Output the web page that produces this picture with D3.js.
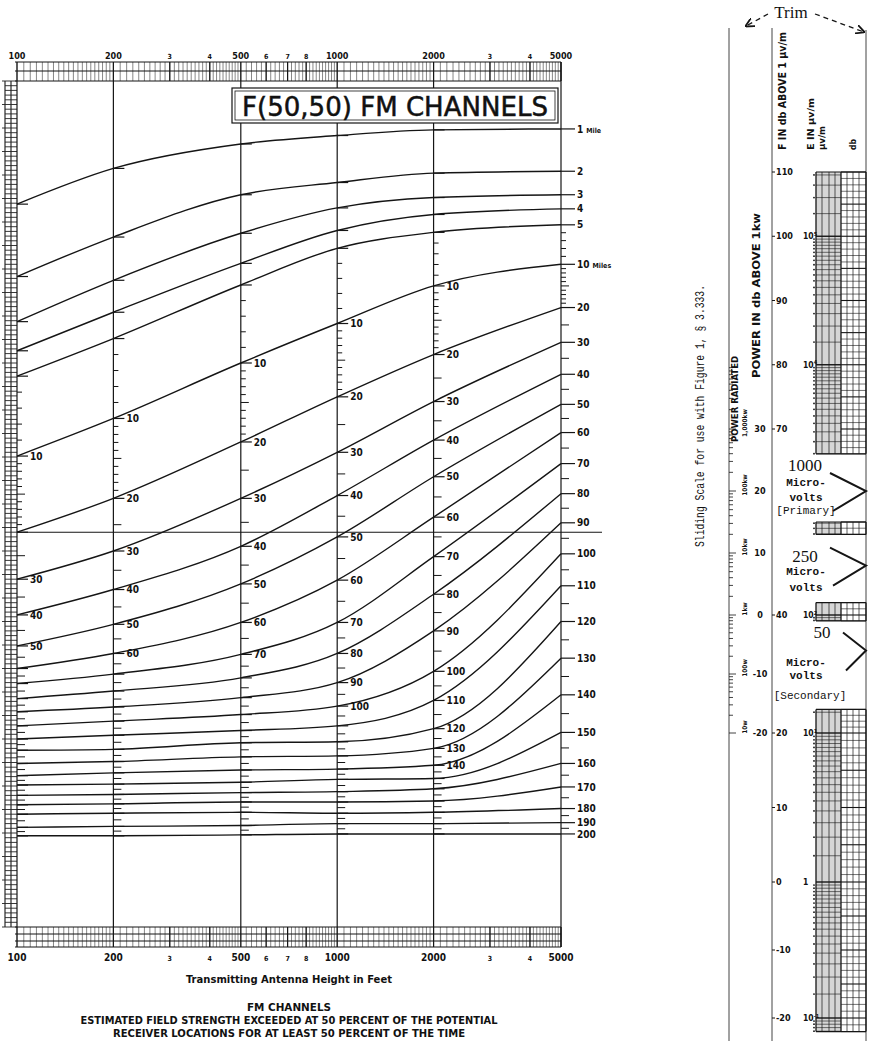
<!DOCTYPE html>
<html>
<head>
<meta charset="utf-8">
<script src="https://cdn.jsdelivr.net/npm/d3@7"></script>
<style>
  body { margin: 0; background: #fff; }
  svg { display: block; }
  .lbl { font-family: "DejaVu Sans Condensed", "DejaVu Sans", sans-serif; font-weight: bold; fill: #111; }
  .mono { font-family: "Liberation Mono", "DejaVu Sans Mono", monospace; fill: #111; }
  .serif { font-family: "Liberation Serif", "DejaVu Serif", serif; fill: #111; }
</style>
</head>
<body>
<svg id="chart"></svg>
<script>
(function () {
  // Antenna heights (feet) where the curves were read
  var heights = [100, 200, 500, 1000, 2000, 5000]
  // One curve per distance, miles
  var distances = [1, 2, 3, 4, 5, 10, 20, 30, 40, 50, 60, 70, 80, 90, 100, 110, 120, 130, 140, 150, 160, 170, 180, 190, 200]

  // Field strength, db above 1 uV/m, per distance at each height
  var fieldAt100 = [94.9, 87.2, 82.4, 79.3, 76.6, 68.1, 60.0, 55.0, 51.2, 47.9, 45.5, 43.9, 42.3, 40.9, 39.4, 38.0, 36.8, 35.4, 34.1, 33.1, 32.0, 31.0, 30.0, 28.6, 27.7]
  var fieldAt200 = [98.7, 91.4, 86.8, 83.4, 80.6, 72.1, 63.6, 58.0, 53.9, 50.2, 47.1, 44.9, 43.1, 41.4, 39.9, 38.4, 36.9, 35.6, 34.4, 33.2, 32.1, 31.1, 30.1, 28.7, 27.7]
  var fieldAt500 = [101.3, 95.9, 91.8, 88.6, 86.3, 78.0, 69.6, 63.6, 58.5, 54.5, 50.4, 47.0, 44.5, 42.4, 40.6, 38.9, 37.6, 36.1, 34.7, 33.4, 32.3, 31.3, 30.2, 28.8, 27.8]
  var fieldAt1000 = [102.2, 97.2, 94.5, 92.1, 90.2, 82.2, 74.4, 68.5, 63.9, 59.5, 54.9, 50.4, 47.1, 44.0, 41.5, 39.4, 37.7, 36.2, 34.8, 33.7, 32.4, 31.3, 30.1, 29.0, 27.9]
  var fieldAt2000 = [102.8, 98.2, 95.6, 93.8, 91.9, 86.2, 78.9, 73.9, 69.8, 65.9, 61.6, 57.4, 53.4, 49.5, 45.2, 42.1, 39.1, 37.0, 35.2, 33.8, 32.7, 31.4, 30.2, 29.0, 27.9]
  var fieldAt5000 = [102.9, 98.4, 95.9, 94.4, 92.7, 88.5, 83.9, 80.2, 76.8, 73.6, 70.6, 67.3, 64.1, 61.0, 57.7, 54.3, 50.5, 46.6, 42.7, 38.7, 35.4, 32.9, 30.6, 29.1, 27.9]

  // Distances that carry a number beside each height line
  var labelsAt100 = [10, 30, 40, 50]
  var labelsAt200 = [10, 20, 30, 40, 50, 60]
  var labelsAt500 = [10, 20, 30, 40, 50, 60, 70]
  var labelsAt1000 = [10, 20, 30, 40, 50, 60, 70, 80, 90, 100]
  var labelsAt2000 = [10, 20, 30, 40, 50, 60, 70, 80, 90, 100, 110, 120, 130, 140]

  // Height axis tick labels
  var heightTicks = [100, 200, 300, 400, 500, 600, 700, 800, 1000, 2000, 3000, 4000, 5000]
  var heightTickText = ['100', '200', '3', '4', '500', '6', '7', '8', '1000', '2000', '3', '4', '5000']

  // Sliding scale
  var fDbTicks = [110, 100, 90, 80, 70, 40, 20, 10, 0, -10, -20]
  var powerDbTicks = [30, 20, 10, 0, -10, -20]
  var powerNames = ['1,000kw', '100kw', '10kw', '1kw', '100w', '10w']
  var eTickDb = [100, 80, 40, 20, 0, -20]
  var eTickExp = ['5', '4', '2', '1', '', '-1']
  var contourUv = [1000, 250, 50]
  var contourTag = ['[Primary]', '', '[Secondary]']

  var W = 872
  var H = 1041
  var ink = '#151515'
  var fieldByHeight = [fieldAt100, fieldAt200, fieldAt500, fieldAt1000, fieldAt2000, fieldAt5000]
  var labelsByHeight = [labelsAt100, labelsAt200, labelsAt500, labelsAt1000, labelsAt2000, distances]

  var svg = d3.select('#chart').attr('width', W).attr('height', H)
  svg.append('rect').attr('width', W).attr('height', H).attr('fill', '#fff')

  var x = d3.scaleLog().domain([100, 5000]).range([17, 561])
  var y = d3.scaleLinear().domain([18, 108]).range([927, 81])
  var plotTop = y(108)
  var plotBottom = y(18)

  var chart = svg.append('g')

  // Height strips at top and bottom
  var fineHeights = [].concat(d3.range(100, 200, 5), d3.range(200, 500, 10), d3.range(500, 1000, 20),
    d3.range(1000, 2000, 50), d3.range(2000, 5001, 100))
  var strips = [[62, plotTop, [62, 71, plotTop]], [plotBottom, 947, [plotBottom, 934, 941, 947]]]
  strips.forEach(function (s) {
    var sg = chart.append('g')
    sg.selectAll('line.f').data(fineHeights).enter().append('line')
      .attr('x1', function (d) { return x(d) }).attr('x2', function (d) { return x(d) })
      .attr('y1', s[0]).attr('y2', s[1])
      .attr('stroke', '#555').attr('stroke-width', 0.7)
    sg.selectAll('line.r').data(s[2]).enter().append('line')
      .attr('x1', x(100) - 2).attr('x2', x(5000))
      .attr('y1', function (d) { return d }).attr('y2', function (d) { return d })
      .attr('stroke', ink).attr('stroke-width', 1)
    sg.selectAll('line.m').data(heightTicks).enter().append('line')
      .attr('x1', function (d) { return x(d) }).attr('x2', function (d) { return x(d) })
      .attr('y1', s[0]).attr('y2', s[1])
      .attr('stroke', ink).attr('stroke-width', 1.2)
  })

  // Height labels above and below
  chart.selectAll('text.top').data(heightTicks).enter().append('text')
    .attr('class', 'lbl')
    .attr('x', function (d) { return x(d) }).attr('y', 59)
    .attr('text-anchor', 'middle')
    .attr('font-size', function (d, i) { return heightTickText[i].length > 1 ? 9 : 7 })
    .text(function (d, i) { return heightTickText[i] })
  chart.selectAll('text.bot').data(heightTicks).enter().append('text')
    .attr('class', 'lbl')
    .attr('x', function (d) { return x(d) }).attr('y', 961)
    .attr('text-anchor', 'middle')
    .attr('font-size', function (d, i) { return heightTickText[i].length > 1 ? 10 : 7 })
    .text(function (d, i) { return heightTickText[i] })
  chart.append('text').attr('class', 'lbl')
    .attr('x', 289).attr('y', 983).attr('text-anchor', 'middle')
    .attr('font-size', 11).attr('textLength', 206).attr('lengthAdjust', 'spacingAndGlyphs')
    .text('Transmitting Antenna Height in Feet')

  // Left ruler
  var rungs = d3.range(18, 108.001, 0.5)
  chart.selectAll('line.rail').data([5, 11]).enter().append('line')
    .attr('x1', function (d) { return d }).attr('x2', function (d) { return d })
    .attr('y1', plotTop).attr('y2', plotBottom)
    .attr('stroke', ink).attr('stroke-width', 1.1)
  chart.selectAll('line.rung').data(rungs).enter().append('line')
    .attr('x1', function (d, i) { return i % 5 === 0 ? 2 : 5 }).attr('x2', x(100))
    .attr('y1', function (d) { return y(d) }).attr('y2', function (d) { return y(d) })
    .attr('stroke', '#222').attr('stroke-width', 0.9)

  // Height lines
  chart.selectAll('line.vgrid').data(heights).enter().append('line')
    .attr('x1', function (d) { return x(d) }).attr('x2', function (d) { return x(d) })
    .attr('y1', function (d) { return d === 5000 ? 62 : plotTop })
    .attr('y2', function (d) { return d === 5000 ? 947 : plotBottom })
    .attr('stroke', ink).attr('stroke-width', 1.2)

  // 1000 microvolt line
  chart.append('line').attr('x1', x(100)).attr('x2', 602)
    .attr('y1', y(60)).attr('y2', y(60))
    .attr('stroke', ink).attr('stroke-width', 1.1)

  // Curves
  var line = d3.line()
    .x(function (d) { return x(d[0]) })
    .y(function (d) { return y(d[1]) })
    .curve(d3.curveMonotoneX)
  chart.selectAll('path.curve').data(distances).enter().append('path')
    .attr('d', function (dist, i) {
      return line(heights.map(function (h, j) { return [h, fieldByHeight[j][i]] }))
    })
    .attr('fill', 'none').attr('stroke', ink).attr('stroke-width', 1.4)

  // Distance scales along each height line
  var minorMiles = [].concat([6, 7, 8, 9], d3.range(11, 20), d3.range(25, 200, 10))
  heights.forEach(function (h, j) {
    var dScale = d3.scaleLinear().domain(distances).range(fieldByHeight[j].map(y))
    var xx = x(h)
    var isRight = h === 5000
    var tg = chart.append('g')
    tg.selectAll('line.minor').data(minorMiles).enter().append('line')
      .attr('x1', xx).attr('x2', function (d) { return xx + (d % 5 === 0 ? 8 : 5) })
      .attr('y1', function (d) { return dScale(d) }).attr('y2', function (d) { return dScale(d) })
      .attr('stroke', ink).attr('stroke-width', 1)
    tg.selectAll('line.major').data(distances).enter().append('line')
      .attr('x1', xx).attr('x2', xx + (isRight ? 14 : 11))
      .attr('y1', function (d) { return dScale(d) }).attr('y2', function (d) { return dScale(d) })
      .attr('stroke', ink).attr('stroke-width', 1.2)
    var lt = tg.selectAll('text').data(labelsByHeight[j]).enter().append('text')
      .attr('class', 'lbl')
      .attr('x', xx + (isRight ? 16 : 13))
      .attr('y', function (d) { return dScale(d) })
      .attr('dy', '0.36em')
      .attr('font-size', 10)
      .text(function (d) { return d })
    if (isRight) {
      lt.filter(function (d) { return d === 1 || d === 10 })
        .append('tspan').attr('font-size', 7).attr('dx', 3)
        .text(function (d) { return d === 1 ? 'Mile' : 'Miles' })
    }
  })

  // Title box
  chart.append('rect').attr('x', 232).attr('y', 88).attr('width', 326).attr('height', 35)
    .attr('fill', '#fff').attr('stroke', ink).attr('stroke-width', 1.2)
  chart.append('rect').attr('x', 235).attr('y', 91).attr('width', 320).attr('height', 29)
    .attr('fill', 'none').attr('stroke', ink).attr('stroke-width', 0.8)
  chart.append('text')
    .attr('x', 395).attr('y', 116).attr('text-anchor', 'middle')
    .attr('font-family', '"DejaVu Sans", sans-serif').attr('font-size', 26)
    .attr('stroke', '#111').attr('stroke-width', 0.5)
    .attr('textLength', 306).attr('lengthAdjust', 'spacingAndGlyphs').attr('fill', '#111')
    .text('F(50,50) FM CHANNELS')

  // Caption
  var caption = ['FM CHANNELS', 'ESTIMATED FIELD STRENGTH EXCEEDED AT 50 PERCENT OF THE POTENTIAL',
    'RECEIVER LOCATIONS FOR AT LEAST 50 PERCENT OF THE TIME']
  var capLen = [84, 417, 352]
  chart.selectAll('text.cap').data(caption).enter().append('text')
    .attr('class', 'lbl')
    .attr('x', 289).attr('y', function (d, i) { return 1011 + i * 13 })
    .attr('text-anchor', 'middle').attr('font-size', 10.5)
    .attr('textLength', function (d, i) { return capLen[i] }).attr('lengthAdjust', 'spacingAndGlyphs')
    .text(function (d) { return d })

  // ---------- Sliding scale ----------
  var side = svg.append('g')
  var fy = d3.scaleLinear().domain([110, 70, 40, 20, 0, -20]).range([172, 429, 615, 733, 882, 1018])

  side.append('text').attr('class', 'mono')
    .attr('transform', 'translate(704,547) rotate(-90)')
    .attr('font-size', 12).attr('textLength', 262).attr('lengthAdjust', 'spacingAndGlyphs')
    .text('Sliding Scale for use with Figure 1, \u00a7 3.333.')

  // Trim marks
  side.append('text').attr('class', 'serif').attr('x', 791).attr('y', 18)
    .attr('text-anchor', 'middle').attr('font-size', 17).text('Trim')
  svg.append('defs').append('marker').attr('id', 'ah')
    .attr('viewBox', '0 0 10 10').attr('refX', 9).attr('refY', 5)
    .attr('markerWidth', 7).attr('markerHeight', 7).attr('orient', 'auto')
    .append('path').attr('d', 'M0,0 L10,5 L0,10').attr('fill', 'none').attr('stroke', ink).attr('stroke-width', 2)
  side.append('line').attr('x1', 768).attr('y1', 14).attr('x2', 746).attr('y2', 26)
    .attr('stroke', ink).attr('stroke-width', 1.3).attr('stroke-dasharray', '5,4').attr('marker-end', 'url(#ah)')
  side.append('line').attr('x1', 815).attr('y1', 14).attr('x2', 864).attr('y2', 32)
    .attr('stroke', ink).attr('stroke-width', 1.3).attr('stroke-dasharray', '5,4').attr('marker-end', 'url(#ah)')

  // Slide edges
  var edgeX = [729, 772, 866]
  side.selectAll('line.edge').data(edgeX).enter().append('line')
    .attr('x1', function (d) { return d }).attr('x2', function (d) { return d })
    .attr('y1', function (d) { return d === 866 ? 30 : 28 }).attr('y2', H)
    .attr('stroke', '#444').attr('stroke-width', 1)

  // Headings
  var heads = [
    ['F IN db ABOVE 1 \u00b5v/m', 786, 150, 118, 10],
    ['E IN \u00b5v/m', 814, 150, 52, 9],
    ['\u00b5v/m', 825, 150, 24, 8],
    ['db', 856, 150, 11, 9],
    ['POWER IN db ABOVE 1kw', 760, 378, 165, 10],
    ['POWER RADIATED', 738, 442, 86, 9]
  ]
  side.selectAll('text.head').data(heads).enter().append('text')
    .attr('class', 'lbl')
    .attr('transform', function (d) { return 'translate(' + d[1] + ',' + d[2] + ') rotate(-90)' })
    .attr('font-size', function (d) { return d[4] })
    .attr('textLength', function (d) { return d[3] }).attr('lengthAdjust', 'spacingAndGlyphs')
    .text(function (d) { return d[0] })

  // Grid pieces of the slide
  var gridSpans = [[110, 66], [55, 53], [42, 39], [24, -22]]
  gridSpans.forEach(function (span) {
    var gg = side.append('g')
    var y0 = fy(span[0])
    var y1 = fy(span[1])
    gg.append('rect').attr('x', 816).attr('y', y0).attr('width', 25).attr('height', y1 - y0)
      .attr('fill', '#d6d6d6')
    var logLines = []
    d3.range(-2, 7).forEach(function (n) {
      d3.range(1, 10, 0.5).forEach(function (k) {
        var db = 20 * Math.log10(k * Math.pow(10, n))
        if (db <= span[0] && db >= span[1]) logLines.push({ db: db, major: k === 1 })
      })
    })
    gg.selectAll('line.e').data(logLines).enter().append('line')
      .attr('x1', 816).attr('x2', 841)
      .attr('y1', function (d) { return fy(d.db) }).attr('y2', function (d) { return fy(d.db) })
      .attr('stroke', ink).attr('stroke-width', function (d) { return d.major ? 1.4 : 0.6 })
    gg.selectAll('circle').data(logLines.filter(function (d) { return !d.major })).enter().append('circle')
      .attr('cx', 814).attr('cy', function (d) { return fy(d.db) }).attr('r', 0.9).attr('fill', ink)
    var dbLines = d3.range(Math.ceil(span[1]), Math.floor(span[0]) + 1)
    gg.selectAll('line.d').data(dbLines).enter().append('line')
      .attr('x1', 841).attr('x2', 866)
      .attr('y1', function (d) { return fy(d) }).attr('y2', function (d) { return fy(d) })
      .attr('stroke', ink).attr('stroke-width', function (d) { return d % 5 === 0 ? 1.1 : 0.6 })
    gg.selectAll('line.v').data([816, 822, 829, 835, 841, 847, 853, 859, 866]).enter().append('line')
      .attr('x1', function (d) { return d }).attr('x2', function (d) { return d })
      .attr('y1', y0).attr('y2', y1)
      .attr('stroke', ink).attr('stroke-width', function (d) { return d === 816 || d === 841 || d === 866 ? 1.3 : 0.7 })
    gg.selectAll('line.h').data([y0, y1]).enter().append('line')
      .attr('x1', 816).attr('x2', 866).attr('y1', function (d) { return d }).attr('y2', function (d) { return d })
      .attr('stroke', ink).attr('stroke-width', 1.2)
  })

  // F labels
  side.selectAll('text.f').data(fDbTicks).enter().append('text')
    .attr('class', 'lbl').attr('x', 776).attr('y', function (d) { return fy(d) })
    .attr('dy', '0.35em').attr('font-size', 9).text(function (d) { return d })
  side.selectAll('line.ft').data(fDbTicks).enter().append('line')
    .attr('x1', 772).attr('x2', 775)
    .attr('y1', function (d) { return fy(d) }).attr('y2', function (d) { return fy(d) })
    .attr('stroke', ink)

  // E labels, powers of ten
  var et = side.selectAll('text.e').data(eTickDb).enter().append('text')
    .attr('class', 'lbl').attr('x', 803).attr('y', function (d) { return fy(d) })
    .attr('dy', '0.35em').attr('font-size', 8.5)
    .text(function (d, i) { return eTickExp[i] === '' ? '1' : '10' })
  et.append('tspan').attr('font-size', 5.5).attr('dy', '-0.6em')
    .text(function (d, i) { return eTickExp[i] })

  // Power labels
  side.selectAll('text.p').data(powerDbTicks).enter().append('text')
    .attr('class', 'lbl').attr('x', 760).attr('y', function (d) { return fy(d + 40) })
    .attr('dy', '0.35em').attr('text-anchor', 'middle').attr('font-size', 9)
    .text(function (d) { return d })
  side.selectAll('text.pn').data(powerDbTicks).enter().append('text')
    .attr('class', 'lbl')
    .attr('transform', function (d) { return 'translate(747,' + (fy(d + 40) - 6) + ') rotate(-90)' })
    .attr('text-anchor', 'middle').attr('font-size', 6.5)
    .text(function (d, i) { return powerNames[i] })
  var powerMarks = []
  powerDbTicks.forEach(function (p) {
    d3.range(1, 10).forEach(function (k) { powerMarks.push({ db: p + 10 * Math.log10(k), major: k === 1 }) })
  })
  side.selectAll('line.pm').data(powerMarks).enter().append('line')
    .attr('x1', 729).attr('x2', function (d) { return d.major ? 736 : 733 })
    .attr('y1', function (d) { return fy(d.db + 40) }).attr('y2', function (d) { return fy(d.db + 40) })
    .attr('stroke', ink).attr('stroke-width', 0.8)

  // Contour pointers
  var contourDb = contourUv.map(function (v) { return 20 * Math.log10(v) })
  var tagOffsets = [[-26, -9, 6, 19], [-10, 5, 21, 0], [-18, 12, 25, 45]]
  contourDb.forEach(function (db, i) {
    var vy = fy(db)
    var o = tagOffsets[i]
    side.append('path')
      .attr('d', 'M' + (i === 2 ? 843 : 830) + ',' + (vy - 18) + ' L866,' + vy + ' L' + (i === 2 ? 846 : 833) + ',' + (vy + 20))
      .attr('fill', 'none').attr('stroke', ink).attr('stroke-width', 2)
    side.append('text').attr('class', 'serif').attr('x', i === 2 ? 822 : 805).attr('y', vy + o[0])
      .attr('dy', '0.35em').attr('text-anchor', 'middle').attr('font-size', 17)
      .text(contourUv[i])
    side.append('text').attr('class', 'mono').attr('x', 806).attr('y', vy + o[1])
      .attr('dy', '0.35em').attr('text-anchor', 'middle').attr('font-size', 11)
      .attr('font-weight', 'bold').text('Micro-')
    side.append('text').attr('class', 'mono').attr('x', 806).attr('y', vy + o[2])
      .attr('dy', '0.35em').attr('text-anchor', 'middle').attr('font-size', 11)
      .attr('font-weight', 'bold').text('volts')
    if (contourTag[i]) {
      side.append('text').attr('class', 'mono').attr('x', i === 2 ? 810 : 806).attr('y', vy + o[3])
        .attr('dy', '0.35em').attr('text-anchor', 'middle').attr('font-size', 11)
        .text(contourTag[i])
    }
  })
})()
</script>
</body>
</html>
